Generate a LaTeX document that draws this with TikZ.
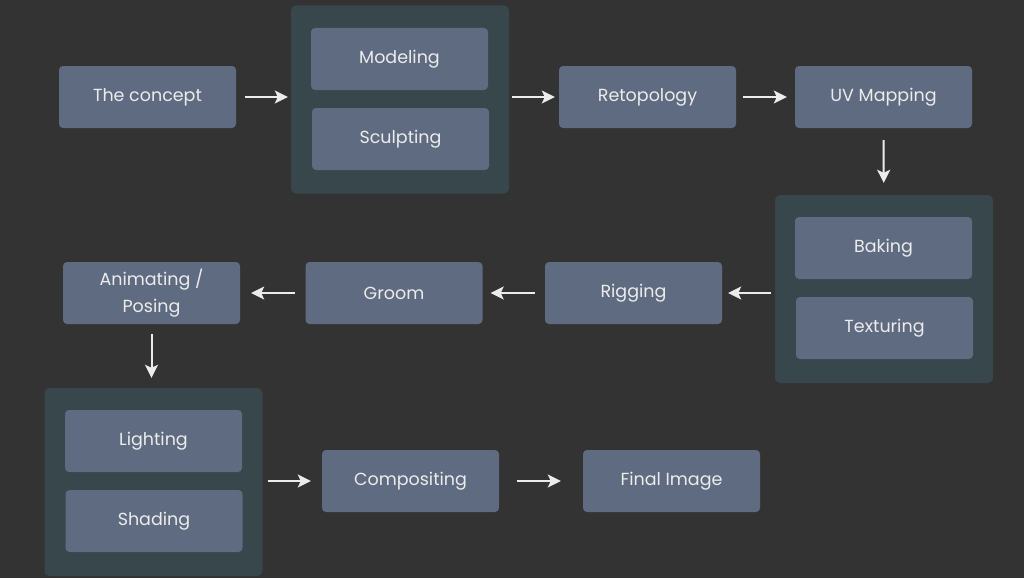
\documentclass[tikz,border=0pt]{standalone}
\usepackage{fontspec}
\setmainfont{Poppins}
\usetikzlibrary{arrows.meta, positioning}

\definecolor{bgdark}{RGB}{51,51,51}
\definecolor{stepblue}{RGB}{95,107,128}
\definecolor{groupteal}{RGB}{55,71,75}
\definecolor{lighttext}{RGB}{236,236,236}

\begin{document}
\begin{tikzpicture}[
    x=1pt, y=-1pt,
    stepbox/.style={rectangle, rounded corners=4pt, fill=stepblue, text=lighttext,
        minimum width=177pt, minimum height=62pt, align=center, inner sep=0pt,
        font=\fontsize{17.5}{27}\selectfont},
    group/.style={rectangle, rounded corners=5pt, fill=groupteal,
        minimum width=218pt, minimum height=188pt, inner sep=0pt},
    arrow/.style={-{Stealth[length=13pt, width=13pt, inset=3pt]}, line width=2pt, draw=lighttext}
]
\useasboundingbox[fill=bgdark] (0,0) rectangle (1024,578);

% top row
\node[stepbox] (concept) at (147.5,97) {The concept};
\node[group] (shape) at (400,99.5) {};
\node[stepbox] (model) at (399.5,59) {Modeling};
\node[stepbox] (sculpt) at (400.5,139) {Sculpting};
\node[stepbox] (retopo) at (647.5,97) {Retopology};
\node[stepbox] (uv) at (883.5,97) {UV Mapping};

% middle row
\node[group] (surface) at (884,289) {};
\node[stepbox] (bake) at (883.5,248) {Baking};
\node[stepbox] (texture) at (884.5,328) {Texturing};
\node[stepbox] (rig) at (633.5,293) {Rigging};
\node[stepbox] (groom) at (394,293) {Groom};
\node[stepbox] (anim) at (151.5,293) {Animating /\\Posing};

% bottom row
\node[group] (look) at (153.5,482) {};
\node[stepbox] (light) at (153.5,441) {Lighting};
\node[stepbox] (shade) at (154,521) {Shading};
\node[stepbox] (comp) at (410.5,481) {Compositing};
\node[stepbox] (final) at (671.5,481) {Final Image};

\draw[arrow, shorten <=9pt, shorten >=3pt] (concept) -- (shape.west |- concept);
\draw[arrow, shorten <=3pt, shorten >=4pt] (shape.east |- retopo) -- (retopo);
\draw[arrow, shorten <=7pt, shorten >=8pt] (retopo) -- (uv);
\draw[arrow, shorten <=12pt, shorten >=12pt] (uv) -- (surface);
\draw[arrow, shorten <=4pt, shorten >=6pt] (surface.west |- rig) -- (rig);
\draw[arrow, shorten <=10pt, shorten >=8pt] (rig) -- (groom);
\draw[arrow, shorten <=10pt, shorten >=11pt] (groom) -- (anim);
\draw[arrow, shorten <=10pt, shorten >=10pt] (anim) -- (look.north -| anim);
\draw[arrow, shorten <=5pt, shorten >=11pt] (look.east |- comp) -- (comp);
\draw[arrow, shorten <=18pt, shorten >=22pt] (comp) -- (final);

\end{tikzpicture}
\end{document}
